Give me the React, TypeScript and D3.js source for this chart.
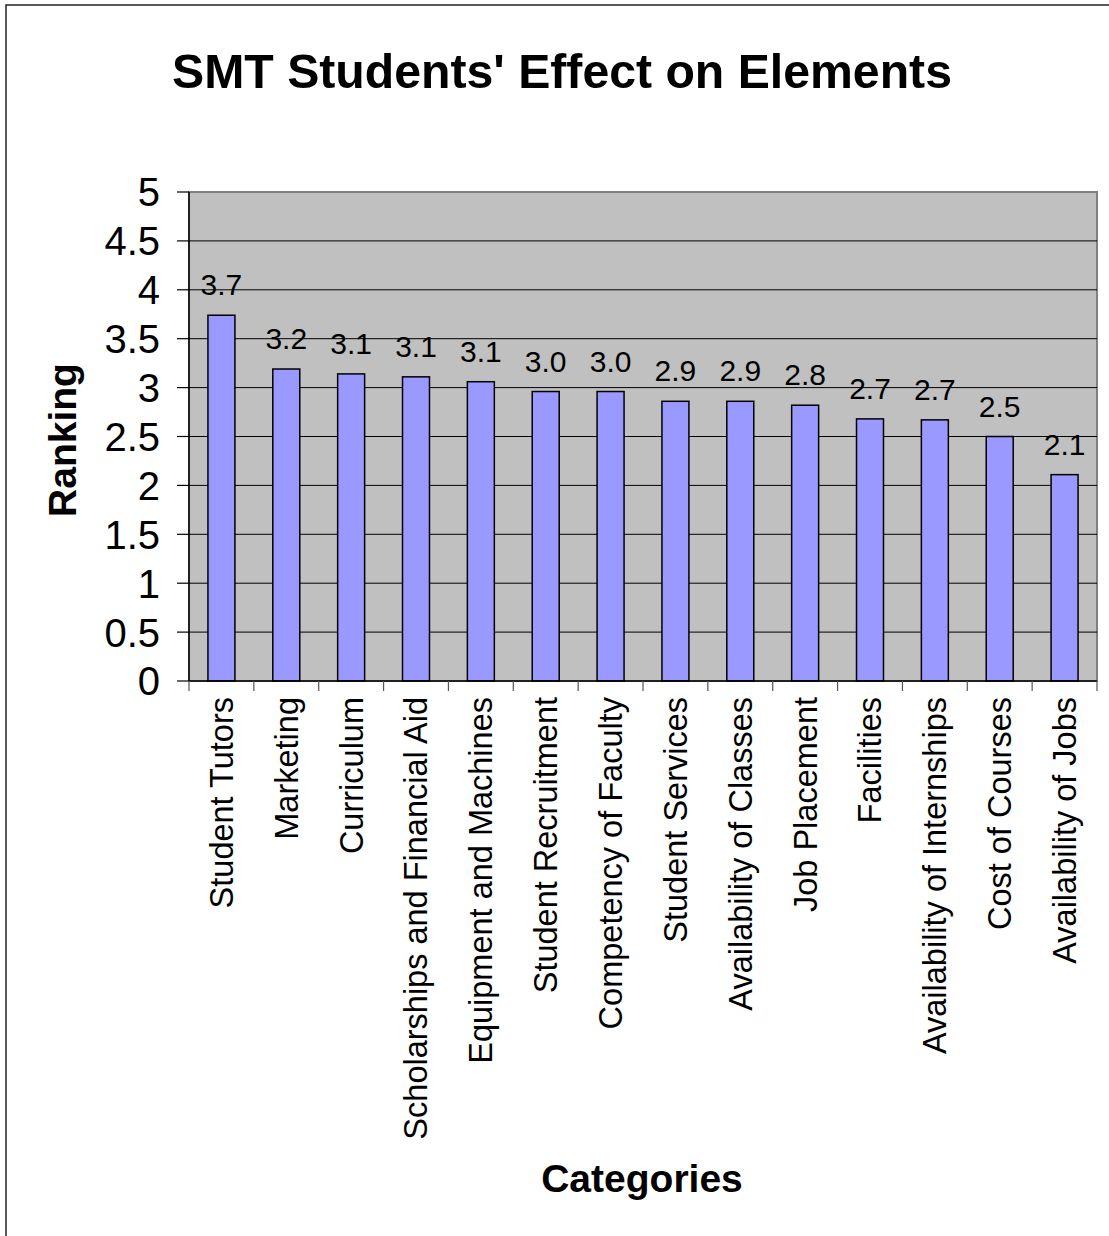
import React from "react";
import * as d3 from "d3";

// Chart data
const categories = [
  "Student Tutors",
  "Marketing",
  "Curriculum",
  "Scholarships and Financial Aid",
  "Equipment and Machines",
  "Student Recruitment",
  "Competency of Faculty",
  "Student Services",
  "Availability of Classes",
  "Job Placement",
  "Facilities",
  "Availability of Internships",
  "Cost of Courses",
  "Availability of Jobs",
];
const rankings = [3.74, 3.19, 3.14, 3.11, 3.06, 2.96, 2.96, 2.86, 2.86, 2.82, 2.68, 2.67, 2.5, 2.11];
const yTicks = [0, 0.5, 1, 1.5, 2, 2.5, 3, 3.5, 4, 4.5, 5];
const yTickLabels = ["0", "0.5", "1", "1.5", "2", "2.5", "3", "3.5", "4", "4.5", "5"];
const titleText = "SMT Students' Effect on Elements";
const yAxisTitle = "Ranking";
const xAxisTitle = "Categories";

const W = 1109;
const H = 1236;
const FONT = "'Liberation Sans', Arial, Helvetica, sans-serif";

export default function App() {
  const plot = { left: 189, right: 1097, top: 192, bottom: 681 };

  const x = d3
    .scaleBand<string>()
    .domain(categories)
    .range([plot.left, plot.right])
    .paddingInner(0.584)
    .paddingOuter(0.292);
  const step = (plot.right - plot.left) / categories.length;

  const y = d3.scaleLinear().domain([0, 5]).range([plot.bottom, plot.top]);

  return (
    <svg
      width={W}
      height={H}
      viewBox={`0 0 ${W} ${H}`}
      style={{ position: "absolute", left: 0, top: 0, display: "block", background: "#fff" }}
      fontFamily={FONT}
    >
      {/* outer chart frame */}
      <rect x={6} y={5} width={W + 50} height={H + 50} fill="#fff" stroke="#222" strokeWidth={1.5} />

      {/* title */}
      <text x={562} y={88} textAnchor="middle" fontSize={48.2} fontWeight="bold" fill="#000">
        {titleText}
      </text>

      {/* plot area */}
      <rect
        x={plot.left}
        y={plot.top}
        width={plot.right - plot.left}
        height={plot.bottom - plot.top}
        fill="#C0C0C0"
        stroke="#808080"
        strokeWidth={2}
      />

      {/* gridlines */}
      {yTicks
        .filter((t) => t > 0 && t < 5)
        .map((t) => (
          <line key={"g" + t} x1={plot.left} x2={plot.right} y1={y(t)} y2={y(t)} stroke="#000" strokeWidth={1} />
        ))}

      {/* bars */}
      {categories.map((c, i) => (
        <rect
          key={"b" + c}
          x={x(c)}
          y={y(rankings[i])}
          width={x.bandwidth()}
          height={y(0) - y(rankings[i])}
          fill="#9999FF"
          stroke="#000"
          strokeWidth={1.5}
        />
      ))}

      {/* data labels */}
      {categories.map((c, i) => (
        <text
          key={"l" + c}
          x={(x(c) as number) + x.bandwidth() / 2}
          y={y(rankings[i]) - 20}
          textAnchor="middle"
          fontSize={30}
          fill="#000"
        >
          {rankings[i].toFixed(1)}
        </text>
      ))}

      {/* y axis */}
      <line x1={plot.left} x2={plot.left} y1={plot.top} y2={plot.bottom} stroke="#000" strokeWidth={1.5} />
      {yTicks.map((t, i) => (
        <g key={"yt" + t}>
          <line x1={plot.left - 12} x2={plot.left} y1={y(t)} y2={y(t)} stroke="#000" strokeWidth={1.2} />
          <text x={160} y={y(t)} dy="0.36em" textAnchor="end" fontSize={40} fill="#000">
            {yTickLabels[i]}
          </text>
        </g>
      ))}

      {/* x axis */}
      <line x1={plot.left} x2={plot.right} y1={plot.bottom} y2={plot.bottom} stroke="#000" strokeWidth={1.5} />
      {d3.range(categories.length + 1).map((i) => (
        <line
          key={"xt" + i}
          x1={plot.left + i * step}
          x2={plot.left + i * step}
          y1={plot.bottom}
          y2={plot.bottom + 10}
          stroke="#555"
          strokeWidth={1.2}
        />
      ))}
      {categories.map((c) => {
        const cx = (x(c) as number) + x.bandwidth() / 2;
        return (
          <text
            key={"xl" + c}
            transform={`translate(${cx},697) rotate(-90)`}
            dy="0.35em"
            textAnchor="end"
            fontSize={32.5}
            fill="#000"
          >
            {c}
          </text>
        );
      })}

      {/* axis titles */}
      <text
        transform="translate(62,440) rotate(-90)"
        dy="0.35em"
        textAnchor="middle"
        fontSize={39}
        fontWeight="bold"
        fill="#000"
      >
        {yAxisTitle}
      </text>
      <text x={642} y={1192} textAnchor="middle" fontSize={39} fontWeight="bold" fill="#000">
        {xAxisTitle}
      </text>
    </svg>
  );
}
